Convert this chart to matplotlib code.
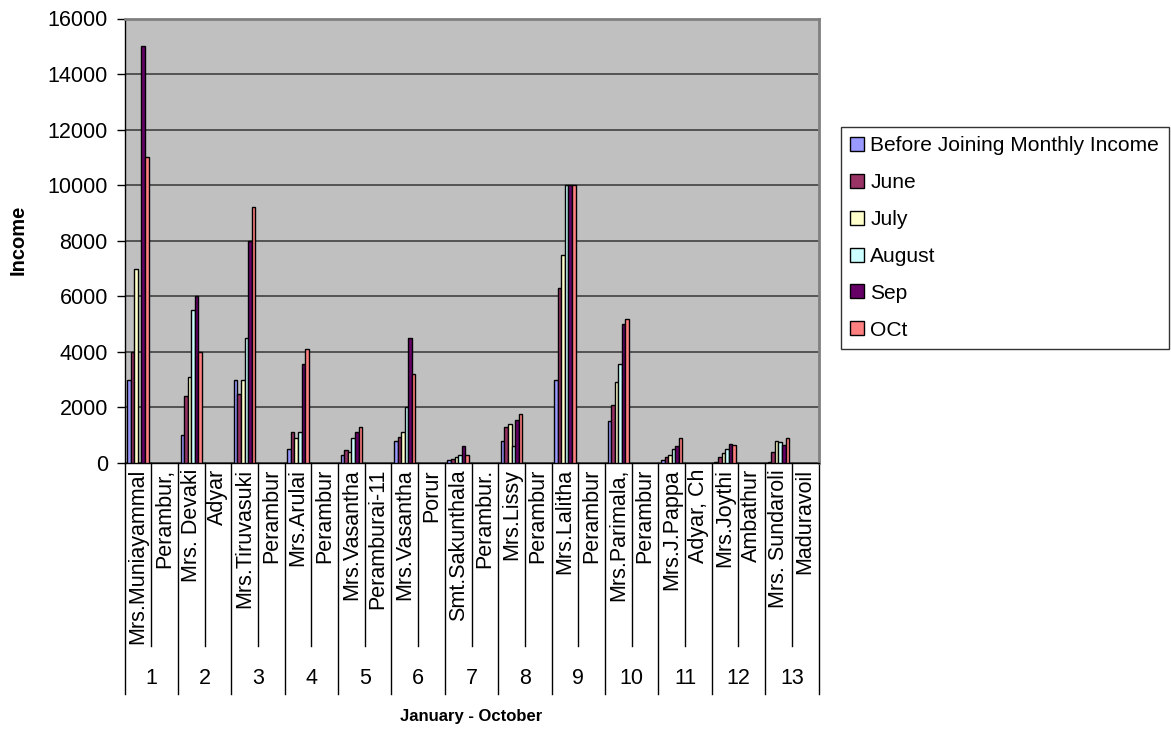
import numpy as np
import matplotlib
matplotlib.use("Agg")
import matplotlib.pyplot as plt
from matplotlib.transforms import blended_transform_factory

plt.rcParams['font.family'] = ['Liberation Sans', 'DejaVu Sans']

# category axis: member name followed by her place, one pair per group
labels = ["Mrs.Muniayammal", "Perambur,", "Mrs. Devaki", "Adyar",
          "Mrs.Tiruvasuki", "Perambur", "Mrs.Arulai", "Perambur",
          "Mrs.Vasantha", "Peramburai-11", "Mrs.Vasantha", "Porur",
          "Smt.Sakunthala", "Perambur.", "Mrs.Lissy", "Perambur",
          "Mrs.Lalitha", "Perambur", "Mrs.Parimala,", "Perambur",
          "Mrs.J.Pappa", "Adyar, Ch", "Mrs.Joythi", "Ambathur",
          "Mrs. Sundaroli", "Maduravoil"]
groups = [str(i) for i in range(1, 14)]

series_names = ["Before Joining Monthly Income", "June", "July", "August", "Sep", "OCt"]
before = [3000, 1000, 3000, 500, 300, 800, 100, 800, 3000, 1500, 100, 50, 50]
june = [4000, 2400, 2500, 1100, 450, 950, 150, 1300, 6300, 2100, 200, 200, 400]
july = [7000, 3100, 3000, 900, 400, 1100, 200, 1400, 7500, 2900, 300, 350, 800]
august = [0, 5500, 4500, 1100, 900, 2000, 300, 600, 10000, 3550, 500, 500, 750]
sep = [15000, 6000, 8000, 3550, 1100, 4500, 600, 1550, 10000, 5000, 600, 700, 650]
octo = [11000, 4000, 9200, 4100, 1300, 3200, 300, 1750, 10000, 5200, 900, 650, 900]

colors = ["#9999FF", "#993366", "#FFFFCC", "#CCFFFF", "#660066", "#FF8080"]

W, H = 1171, 738
fig = plt.figure(figsize=(W / 100, H / 100), dpi=100)
ax = fig.add_axes([124.5 / W, 1 - 463 / H, (818.5 - 124.5) / W, (463 - 18.5) / H])
ax.set_facecolor("#C0C0C0")

# values sit on the name rows only (every other category)
n_cat = len(labels)
name_pos = np.arange(0, n_cat, 2) + 0.5
bw = 0.8 / 6
for k, (vals, c, nm) in enumerate(zip([before, june, july, august, sep, octo],
                                      colors, series_names)):
    x = name_pos - 0.4 + bw * (k + 0.5)
    ax.bar(x, vals, width=bw, color=c, edgecolor="black", linewidth=1.0,
           label=nm, zorder=3)

ax.set_xlim(0, n_cat)
ax.set_ylim(0, 16000)
ax.set_yticks(np.arange(0, 16001, 2000))
ax.yaxis.grid(True, color="#4a4a4a", linewidth=1.3, zorder=1)
ax.set_axisbelow(True)
ax.tick_params(axis="y", direction="out", length=6, width=1, labelsize=15.5, pad=6)
ax.set_xticks([])

for s in ["top", "right"]:
    ax.spines[s].set_color("#808080")
    ax.spines[s].set_linewidth(2)
for s in ["left", "bottom"]:
    ax.spines[s].set_color("black")
    ax.spines[s].set_linewidth(1)

# multi-level category labels below the axis
tr = blended_transform_factory(ax.transData, fig.transFigure)
fy = lambda py: 1 - py / H
for i in range(n_cat + 1):
    y_end = 694 if i % 2 == 0 else 646
    ax.plot([i, i], [fy(463), fy(y_end)], color="black", linewidth=1,
            transform=tr, clip_on=False)
for i, lab in enumerate(labels):
    ax.text(i + 0.5, fy(469), lab, rotation=90, ha="center", va="top",
            fontsize=15.5, transform=tr)
for g, lab in enumerate(groups):
    ax.text(2 * g + 1, fy(678), lab, ha="center", va="center",
            fontsize=15.5, transform=tr)

ax.text(n_cat / 2, fy(717), "January - October", ha="center", va="center",
        fontsize=12, fontweight="bold", transform=tr)
fig.text(18 / W, fy(240), "Income", rotation=90, ha="center", va="center",
         fontsize=14.5, fontweight="bold")

leg = fig.legend(loc="upper left", bbox_to_anchor=(841 / W, fy(127)),
                 fontsize=15.1, frameon=True, fancybox=False, edgecolor="black",
                 handlelength=0.65, handleheight=0.65, handletextpad=0.3,
                 labelspacing=0.85, borderpad=0.45, borderaxespad=0)
leg.get_frame().set_linewidth(1)

fig.savefig("out.png", dpi=100)
